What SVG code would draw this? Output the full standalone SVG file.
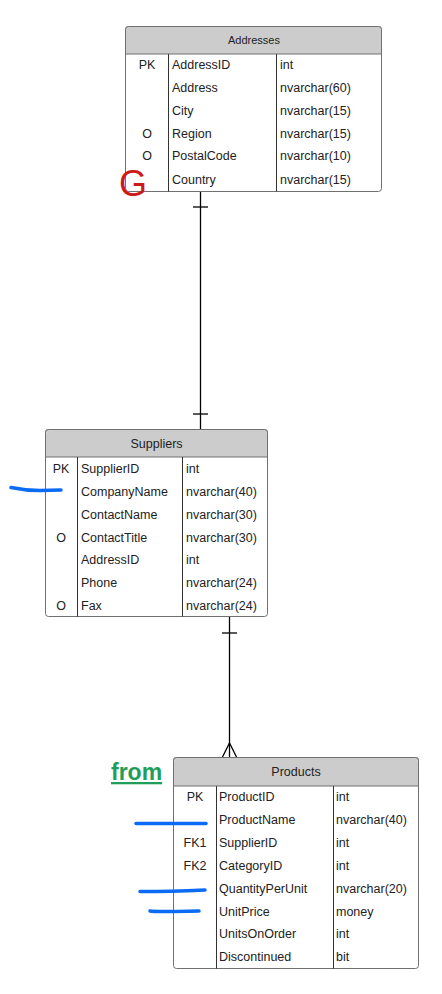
<svg xmlns="http://www.w3.org/2000/svg" width="442" height="994" viewBox="0 0 442 994">
<style>
.box{fill:#fff;stroke:#707070;stroke-width:1}
.hdr{fill:#cccccc;stroke:#707070;stroke-width:1}
.div{stroke:#333;stroke-width:1}
.t{font-family:"Liberation Sans",Arial,sans-serif;font-size:12.5px;fill:#222}
.h{font-family:"Liberation Sans",Arial,sans-serif;font-size:12.5px;fill:#222;text-anchor:middle}
.k{text-anchor:middle}
.ln{stroke:#000;stroke-width:1.3;fill:none}
.blue{stroke:#0b6bf5;stroke-width:3.5;fill:none;stroke-linecap:round}
</style>
<rect width="442" height="994" fill="#fff"/>
<g id="connectors">
<line class="ln" x1="200.5" y1="192" x2="200.5" y2="429"/>
<line class="ln" x1="193" y1="207" x2="208" y2="207"/>
<line class="ln" x1="193" y1="414" x2="208" y2="414"/>
<line class="ln" x1="229.5" y1="617" x2="229.5" y2="757"/>
<line class="ln" x1="222" y1="633" x2="237" y2="633"/>
<path class="ln" d="M222.5 757 L229.5 743 L236.5 757"/>
</g>
<g id="addresses">
<rect class="box" x="125.5" y="26.5" width="256" height="165" rx="3"/>
<path class="hdr" d="M125.5 54 V29.5 a3 3 0 0 1 3 -3 H378.5 a3 3 0 0 1 3 3 V54 Z"/>
<line class="div" x1="168.5" y1="54" x2="168.5" y2="191.5"/>
<line class="div" x1="276.5" y1="54" x2="276.5" y2="191.5"/>
<text class="h" x="254" y="44" style="font-size:11px">Addresses</text>
<text class="t k" x="147" y="68.5">PK</text>
<text class="t k" x="147" y="137.5">O</text>
<text class="t k" x="147" y="160">O</text>
<text class="t" x="172" y="68.5">AddressID</text>
<text class="t" x="172" y="91.5">Address</text>
<text class="t" x="172" y="114.5">City</text>
<text class="t" x="172" y="137.5">Region</text>
<text class="t" x="172" y="160">PostalCode</text>
<text class="t" x="172" y="183.5">Country</text>
<text class="t" x="280" y="68.5">int</text>
<text class="t" x="280" y="91.5">nvarchar(60)</text>
<text class="t" x="280" y="114.5">nvarchar(15)</text>
<text class="t" x="280" y="137.5">nvarchar(15)</text>
<text class="t" x="280" y="160">nvarchar(10)</text>
<text class="t" x="280" y="183.5">nvarchar(15)</text>
</g>
<g id="suppliers">
<rect class="box" x="45.5" y="429.5" width="222" height="187" rx="3"/>
<path class="hdr" d="M45.5 457 V432.5 a3 3 0 0 1 3 -3 H264.5 a3 3 0 0 1 3 3 V457 Z"/>
<line class="div" x1="77.5" y1="457" x2="77.5" y2="616.5"/>
<line class="div" x1="182.5" y1="457" x2="182.5" y2="616.5"/>
<text class="h" x="156.5" y="447.5">Suppliers</text>
<text class="t k" x="61" y="472.5">PK</text>
<text class="t k" x="61" y="541.5">O</text>
<text class="t k" x="61" y="610">O</text>
<text class="t" x="81" y="472.5">SupplierID</text>
<text class="t" x="81" y="495.5">CompanyName</text>
<text class="t" x="81" y="518.5">ContactName</text>
<text class="t" x="81" y="541.5">ContactTitle</text>
<text class="t" x="81" y="564">AddressID</text>
<text class="t" x="81" y="587">Phone</text>
<text class="t" x="81" y="610">Fax</text>
<text class="t" x="186" y="472.5">int</text>
<text class="t" x="186" y="495.5">nvarchar(40)</text>
<text class="t" x="186" y="518.5">nvarchar(30)</text>
<text class="t" x="186" y="541.5">nvarchar(30)</text>
<text class="t" x="186" y="564">int</text>
<text class="t" x="186" y="587">nvarchar(24)</text>
<text class="t" x="186" y="610">nvarchar(24)</text>
</g>
<g id="products">
<rect class="box" x="173.5" y="757.5" width="245" height="211" rx="3"/>
<path class="hdr" d="M173.5 786 V760.5 a3 3 0 0 1 3 -3 H415.5 a3 3 0 0 1 3 3 V786 Z"/>
<line class="div" x1="216.5" y1="786" x2="216.5" y2="968.5"/>
<line class="div" x1="333.5" y1="786" x2="333.5" y2="968.5"/>
<text class="h" x="296" y="776">Products</text>
<text class="t k" x="195" y="800.5">PK</text>
<text class="t k" x="195" y="846.5">FK1</text>
<text class="t k" x="195" y="869.5">FK2</text>
<text class="t" x="219" y="800.5">ProductID</text>
<text class="t" x="219" y="823.5">ProductName</text>
<text class="t" x="219" y="846.5">SupplierID</text>
<text class="t" x="219" y="869.5">CategoryID</text>
<text class="t" x="219" y="892.5">QuantityPerUnit</text>
<text class="t" x="219" y="915.5">UnitPrice</text>
<text class="t" x="219" y="938">UnitsOnOrder</text>
<text class="t" x="219" y="961">Discontinued</text>
<text class="t" x="336" y="800.5">int</text>
<text class="t" x="336" y="823.5">nvarchar(40)</text>
<text class="t" x="336" y="846.5">int</text>
<text class="t" x="336" y="869.5">int</text>
<text class="t" x="336" y="892.5">nvarchar(20)</text>
<text class="t" x="336" y="915.5">money</text>
<text class="t" x="336" y="938">int</text>
<text class="t" x="336" y="961">bit</text>
</g>
<g id="annotations">
<text x="119" y="196" font-family="Liberation Sans,Arial,sans-serif" font-size="36" fill="#cc1a1a">G</text>
<path class="blue" d="M11 487.5 Q25 490.5 40 490.5 L61 490"/>
<path class="blue" d="M136 823.5 L206 823.5"/>
<path class="blue" d="M140 891.5 Q170 891.5 205 890"/>
<path class="blue" d="M150 911 Q155 912 199 911"/>
<text x="111" y="780" font-family="Liberation Sans,Arial,sans-serif" font-size="23" font-weight="bold" fill="#1e9e5a" text-decoration="underline">from</text>
</g>
</svg>
